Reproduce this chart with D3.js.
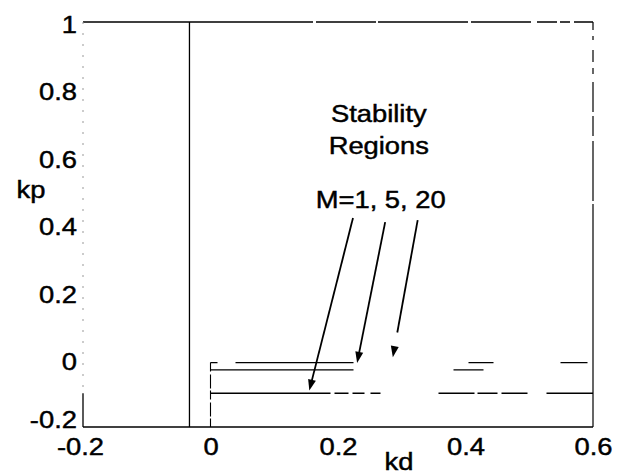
<!DOCTYPE html>
<html>
<head>
<meta charset="utf-8">
<script src="https://cdn.jsdelivr.net/npm/d3@7"></script>
<style>
  html, body { margin: 0; padding: 0; background: #fff; }
  svg { display: block; }
  text { font-family: "Liberation Sans", Arial, Helvetica, sans-serif; fill: #000; stroke: #000; stroke-width: 0.45px; }
</style>
</head>
<body>
<svg id="chart" width="627" height="476"></svg>
<script>
// Axis ticks
const kdTicks = [-0.2, 0, 0.2, 0.4, 0.6];
const kpTicks = [-0.2, 0, 0.2, 0.4, 0.6, 0.8, 1];

// Stability boundaries
const leftBoundaryKd = -0.033;          // solid vertical boundary
const regionM = [1, 5, 20];
const regionKp = [-0.1, -0.009, -0.031]; // horizontal boundary of each region
const regionKdStart = 0;                 // regions start at kd = 0
const regionKdEnd = 0.6;

// Annotation arrows (kd, kp) from the label to each boundary
const arrowFrom = [[0.2235, 0.419], [0.274, 0.407], [0.325, 0.413]];
const arrowTo   = [[0.155, -0.092], [0.230, -0.010], [0.286, 0.007]];

const W = 627, H = 476;
const margin = { top: 22, right: 34, bottom: 49, left: 83 };

const svg = d3.select("#chart");
const x = d3.scaleLinear().domain([-0.2, 0.6]).range([margin.left, W - margin.right]);
const y = d3.scaleLinear().domain([-0.2, 1]).range([H - margin.bottom, margin.top]);

const fmt = d => (d === 0 ? "0" : String(d));
const FS = 24, SX = 1.14;

// text with a slightly wide face
function label(g, px, py, str, anchor) {
  return g.append("text")
    .attr("transform", `translate(${px},${py}) scale(${SX},1)`)
    .attr("text-anchor", anchor || "middle")
    .attr("font-size", FS)
    .text(str);
}

// Frame
const frame = svg.append("g").attr("fill", "none").attr("stroke", "#000");
frame.append("line") // top
  .attr("x1", x(-0.2)).attr("x2", x(0.6)).attr("y1", y(1)).attr("y2", y(1))
  .attr("stroke-width", 1.4).attr("stroke-dasharray", "230,3,60,2,90,3,60,6,20,3,10,4,30");
frame.append("line") // bottom
  .attr("x1", x(-0.2)).attr("x2", x(0.6)).attr("y1", y(-0.2)).attr("y2", y(-0.2))
  .attr("stroke-width", 1.5);
frame.append("line") // right
  .attr("x1", x(0.6)).attr("x2", x(0.6)).attr("y1", y(1)).attr("y2", y(-0.2))
  .attr("stroke-width", 1.2).attr("stroke-dasharray", "8,6,4,10,12,6,6,8,30,4,20,5,60,3,240");
frame.append("line") // left, faint
  .attr("x1", x(-0.2)).attr("x2", x(-0.2)).attr("y1", y(1)).attr("y2", y(-0.1))
  .attr("stroke", "#999").attr("stroke-width", 1).attr("stroke-dasharray", "2,9");
frame.append("line")
  .attr("x1", x(-0.2)).attr("x2", x(-0.2)).attr("y1", y(-0.1)).attr("y2", y(-0.2))
  .attr("stroke-width", 1.3);

// Axes (labels only)
const yAxis = d3.axisLeft(y).tickValues(kpTicks).tickSize(0).tickPadding(0).tickFormat(fmt);
const gy = svg.append("g").attr("transform", `translate(${x(-0.2) - 6},0)`).call(yAxis);
gy.select(".domain").remove();
gy.selectAll(".tick text").remove();
gy.selectAll(".tick").each(function(d) {
  label(d3.select(this), 0, d === -0.2 ? 0 : 10, fmt(d), "end");
});

const xAxis = d3.axisBottom(x).tickValues(kdTicks).tickSize(0).tickFormat(fmt);
const gx = svg.append("g").attr("transform", `translate(0,${y(-0.2)})`).call(xAxis);
gx.select(".domain").remove();
gx.selectAll(".tick text").remove();
gx.selectAll(".tick").each(function(d) {
  label(d3.select(this), d < 0 ? -3 : 0, 28, fmt(d), "middle");
});

// Axis titles
label(svg, 31, 198, "kp", "middle");
label(svg, 399, 470, "kd", "middle");

// Left boundary (solid vertical)
svg.append("line")
  .attr("x1", x(leftBoundaryKd)).attr("x2", x(leftBoundaryKd))
  .attr("y1", y(1)).attr("y2", y(-0.2))
  .attr("stroke", "#000").attr("stroke-width", 1.3);

// kd = 0 edge of the regions
svg.append("line")
  .attr("x1", x(regionKdStart)).attr("x2", x(regionKdStart))
  .attr("y1", y(d3.max(regionKp))).attr("y2", y(-0.2))
  .attr("stroke", "#000").attr("stroke-width", 1.1).attr("stroke-dasharray", "9,3,14,2");

// Horizontal region boundaries
const dashes = [
  "120,4,14,4,12,6,10,58,36,3,20,4,26,19,62,2",
  "7,18,118,115,25,67,27,20",
  "143,100,30,200"
];
svg.append("g").selectAll("line").data(regionKp).join("line")
  .attr("x1", x(regionKdStart)).attr("x2", x(regionKdEnd))
  .attr("y1", d => y(d)).attr("y2", d => y(d))
  .attr("stroke", "#000").attr("stroke-width", 1.3)
  .attr("stroke-dasharray", (d, i) => dashes[i]);

// Annotation text
label(svg, x(0.264), 122, "Stability", "middle");
label(svg, x(0.264), 154, "Regions", "middle");
label(svg, x(0.267), 208, "M=1, 5, 20", "middle");

// Arrows
const arrows = svg.append("g");
regionM.forEach((m, i) => {
  const [x0, y0] = [x(arrowFrom[i][0]), y(arrowFrom[i][1])];
  const [x1, y1] = [x(arrowTo[i][0]), y(arrowTo[i][1])];
  const dx = x1 - x0, dy = y1 - y0, len = Math.hypot(dx, dy);
  const ux = dx / len, uy = dy / len;
  const headL = 11, headW = 4;
  const shaftEnd = i === 2 ? 0.82 : 1;
  arrows.append("line")
    .attr("x1", x0).attr("y1", y0)
    .attr("x2", x0 + dx * shaftEnd - (shaftEnd === 1 ? ux * headL * 0.6 : 0))
    .attr("y2", y0 + dy * shaftEnd - (shaftEnd === 1 ? uy * headL * 0.6 : 0))
    .attr("stroke", "#000").attr("stroke-width", 1.8);
  const bx = x1 - ux * headL, by = y1 - uy * headL;
  arrows.append("polygon")
    .attr("points", [
      [x1, y1],
      [bx - uy * headW, by + ux * headW],
      [bx + uy * headW, by - ux * headW]
    ].map(p => p.join(",")).join(" "))
    .attr("fill", "#000");
});
</script>
</body>
</html>
